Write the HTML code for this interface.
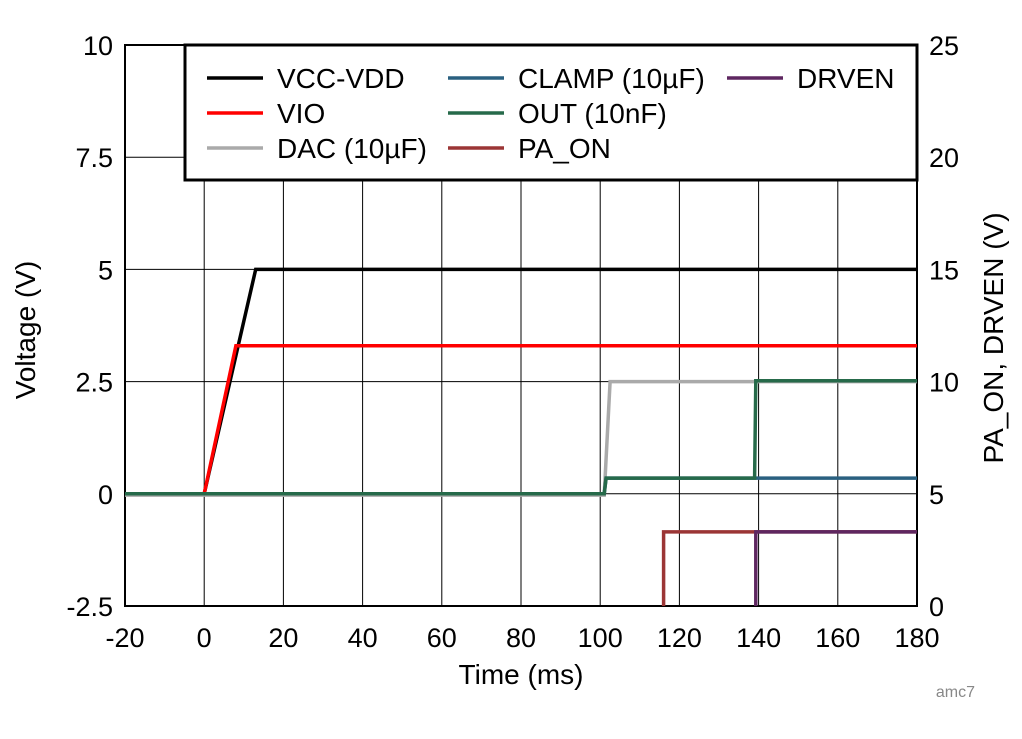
<!DOCTYPE html>
<html><head><meta charset="utf-8"><style>
body{margin:0;background:#fff;width:1022px;height:734px;overflow:hidden;font-family:"Liberation Sans",Arial,sans-serif}
svg text{font-family:"Liberation Sans",Arial,sans-serif}
</style></head><body>
<svg id="chart" width="1022" height="734" xmlns="http://www.w3.org/2000/svg"></svg>
<script>
const xTicks=[-20,0,20,40,60,80,100,120,140,160,180];
const yTicks=[-2.5,0,2.5,5,7.5,10];
const yTickLabels=["-2.5","0","2.5","5","7.5","10"];
const y2Ticks=[0,5,10,15,20,25];
// series: [time ms, value]
const vccT=[-20,0,13,180]; const vccV=[0,0,5,5];
const vioT=[-20,0,8,180]; const vioV=[0,0,3.3,3.3];
const dacT=[-20,101,102.5,180]; const dacV=[-0.03,-0.03,2.5,2.5];
const clampT=[-20,101,101.5,180]; const clampV=[0,0,0.35,0.35];
const outT=[-20,101,101.5,139,139.3,180]; const outV=[0,0,0.35,0.35,2.52,2.52];
const paonT=[116,116,180]; const paonV=[0,3.3,3.3];
const drvenT=[139.3,139.3,180]; const drvenV=[0,3.3,3.3];

const L=125,R=917,T=45,B=606;
const X=t=>L+(t+20)/200*(R-L);
const Y=v=>B-(v+2.5)/12.5*(B-T);
const Y2=v=>B-v/25*(B-T);
const svg=document.getElementById('chart');
const NS='http://www.w3.org/2000/svg';
function mk(tag,at,parent){const e=document.createElementNS(NS,tag);for(const k in at)e.setAttribute(k,at[k]);(parent||svg).appendChild(e);return e;}
const FS=27;
xTicks.forEach(t=>{
 const g=mk('line',{x1:X(t),x2:X(t),y1:T,y2:B,stroke:'#000','stroke-width':1});
 
 
 const tx=mk('text',{x:X(t),y:647,'text-anchor':'middle','font-size':FS});tx.textContent=t;
 
 
});
yTicks.forEach((v,i)=>{
 const g=mk('line',{x1:L,x2:R,y1:Y(v),y2:Y(v),stroke:'#000','stroke-width':1});
 
 
 const tx=mk('text',{x:113,y:Y(v)+10,'text-anchor':'end','font-size':FS});tx.textContent=yTickLabels[i];
 
 
});
y2Ticks.forEach(v=>{
 const tx=mk('text',{x:929,y:Y2(v)+10,'text-anchor':'start','font-size':FS});tx.textContent=v;
 
 
});
const fr=mk('rect',{x:L,y:T,width:R-L,height:B-T,fill:'none',stroke:'#000','stroke-width':2});



function series(ts,vs,color,name,yf){
 const pts=ts.map((t,i)=>X(t).toFixed(1)+','+yf(vs[i]).toFixed(1)).join(' ');
 const p=mk('polyline',{points:pts,fill:'none',stroke:color,'stroke-width':3.5});
 
 
}
series(dacT,dacV,'#aaaaaa','dac-line',Y);
series(vccT,vccV,'#000000','vcc-vdd-line',Y);
series(vioT,vioV,'#ff0000','vio-line',Y);
series(clampT,clampV,'#2a6080','clamp-line',Y);
series(outT,outV,'#266a4a','out-line',Y);
series(paonT,paonV,'#9b3535','pa-on-line',Y2);
series(drvenT,drvenV,'#5e2760','drven-line',Y2);

// legend
const lg=mk('g',{});


mk('rect',{x:185,y:45,width:732,height:135,fill:'#fff',stroke:'#000','stroke-width':3},lg);
const entries=[['VCC-VDD','#000',207,78],['VIO','#ff0000',207,113],['DAC (10\u00b5F)','#aaaaaa',207,148],
['CLAMP (10\u00b5F)','#2a6080',448,78],['OUT (10nF)','#266a4a',448,113],['PA_ON','#9b3535',448,148],['DRVEN','#5e2760',727,78]];
entries.forEach(e=>{
 const g=mk('g',{},lg);
 
 
 mk('line',{x1:e[2],x2:e[2]+56,y1:e[3],y2:e[3],stroke:e[1],'stroke-width':3.5},g);
 const t=mk('text',{x:e[2]+70,y:e[3]+10,'font-size':28},g);t.textContent=e[0];
});

const xt=mk('text',{x:521,y:684,'text-anchor':'middle','font-size':28});xt.textContent='Time (ms)';


const yt=mk('text',{x:0,y:0,'text-anchor':'middle','font-size':28,transform:'translate(35,330) rotate(-90)'});yt.textContent='Voltage (V)';


const y2t=mk('text',{x:0,y:0,'text-anchor':'middle','font-size':28,transform:'translate(1003,338) rotate(-90)'});y2t.textContent='PA_ON, DRVEN (V)';


const wm=mk('text',{x:975,y:697,'text-anchor':'end','font-size':16,fill:'#888'});wm.textContent='amc7';


</script>
</body></html>
